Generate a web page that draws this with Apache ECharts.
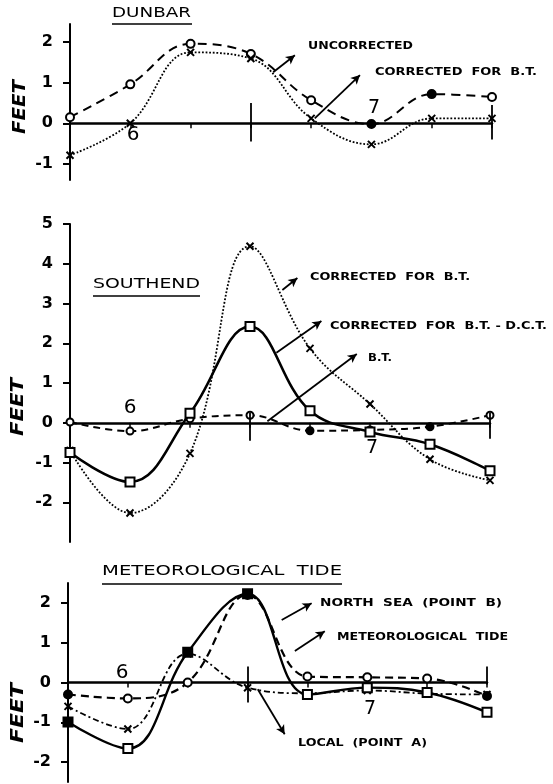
<!DOCTYPE html>
<html>
<head>
<meta charset="utf-8">
<script src="https://cdn.jsdelivr.net/npm/echarts@6/dist/echarts.min.js"></script>
<style>
html,body{margin:0;padding:0;background:#fff;}
#chart{width:553px;height:784px;}
</style>
</head>
<body>
<div id="chart"></div>
<script>
// ---- data (time steps along x; values in feet) ----
const xValues = [0, 1, 2, 3, 4, 5, 6, 7];

const dunbarUncorrected   = [0.15, 0.96, 1.96, 1.71, 0.57, -0.02, 0.72, 0.65];
const dunbarUncorrectedFilled = [5, 6];
const dunbarCorrectedBT   = [-0.79, 0.0, 1.75, 1.60, 0.12, -0.52, 0.12, 0.12];

const southendCorrectedBT    = [-0.70, -2.27, -0.77, 4.44, 1.87, 0.47, -0.92, -1.45];
const southendCorrectedBTDCT = [-0.75, -1.49, 0.24, 2.42, 0.30, -0.23, -0.54, -1.21];
const southendBT             = [0.02, -0.21, 0.10, 0.19, -0.20, -0.18, -0.10, 0.19];
const southendBTFilled       = [4, 6];

const metNorthSea = [-0.30, -0.40, 0.0, 2.20, 0.15, 0.13, 0.10, -0.34];
const metNorthSeaFilled = [0, 7];
const metTide     = [-0.99, -1.66, 0.76, 2.23, -0.30, -0.13, -0.25, -0.75];
const metTideFilled = [0, 2, 3];
const metLocal    = [-0.60, -1.17, 0.72, -0.13, -0.27, -0.20, -0.28, -0.30];

const dunbarTicks   = [-1, 0, 1, 2];
const southendTicks = [-2, -1, 0, 1, 2, 3, 4, 5];
const metTicks      = [-2, -1, 0, 1, 2];

const dayLabels = ['6', '7'];

// ---- helpers ----
const FAM = '"DejaVu Sans", "Liberation Sans", sans-serif';
const ctx = document.createElement('canvas').getContext('2d');
function measure(text, weight, size, style) {
  ctx.font = (style || 'normal') + ' ' + (weight || 'normal') + ' ' + size + 'px ' + FAM;
  return ctx.measureText(text).width;
}
function stretchText(text, x, y, width, size, weight, opts) {
  opts = opts || {};
  const w = measure(text, weight, size, opts.fontStyle);
  return {
    type: 'text', x: x, y: y, rotation: opts.rotation || 0,
    scaleX: width / w, z: 100,
    style: {
      text: text, fill: '#000', fontFamily: FAM, fontSize: size,
      fontWeight: weight || 'normal', fontStyle: opts.fontStyle || 'normal',
      align: opts.align || 'left', verticalAlign: 'middle'
    }
  };
}
function underline(x1, x2, y) {
  return { type: 'line', z: 100, shape: { x1: x1, y1: y, x2: x2, y2: y },
           style: { stroke: '#000', lineWidth: 1.6 } };
}
function dayText(t, x, y, size) {
  return { type: 'text', x: x, y: y, z: 100,
           style: { text: t, fill: '#000', fontFamily: FAM, fontSize: size || 20,
                    align: 'center', verticalAlign: 'middle' } };
}
function mkData(vals, filled) {
  filled = filled || [];
  return vals.map((v, i) => {
    const d = { value: [xValues[i], v] };
    if (filled.indexOf(i) >= 0) d.itemStyle = { color: '#000' };
    return d;
  });
}
const X_SYMBOL = 'path://M0,0L10,10M10,0L0,10';

function lineSeries(idx, vals, opts) {
  return {
    type: 'line', xAxisIndex: idx, yAxisIndex: idx,
    data: mkData(vals, opts.filled),
    smooth: opts.smooth == null ? 0.4 : opts.smooth,
    symbol: opts.symbol, symbolSize: opts.symbolSize || 8,
    showAllSymbol: true,
    lineStyle: { color: '#000', width: opts.width || 2, type: opts.type || 'solid' },
    itemStyle: { color: opts.fill || '#fff', borderColor: '#000', borderWidth: opts.bw || 2 },
    emphasis: { disabled: true },
    z: opts.z || 2,
    markLine: opts.markLine
  };
}
function arrows(list) {
  return {
    silent: true, symbol: ['none', 'arrow'], symbolSize: [7, 9], precision: 4,
    lineStyle: { color: '#000', width: 1.8, type: 'solid' },
    label: { show: false }, emphasis: { disabled: true },
    data: list.map(a => [{ coord: [a[0], a[1]] }, { coord: [a[2], a[3]] }])
  };
}
function ticks(list) {
  return {
    silent: true, symbol: ['none', 'none'], precision: 4,
    lineStyle: { color: '#000', width: 1.8, type: 'solid' },
    label: { show: false }, emphasis: { disabled: true },
    data: list.map(a => [{ coord: [a[0], a[1]] }, { coord: [a[0], a[2]] }])
  };
}

function xAxis(idx) {
  return {
    type: 'value', gridIndex: idx, min: 0, max: 7, interval: 1,
    axisLine: { show: true, onZero: true, lineStyle: { color: '#000', width: 2.5 } },
    axisTick: { show: true, length: 5, inside: false, lineStyle: { color: '#000', width: 1.5 } },
    axisLabel: { show: false }, splitLine: { show: false }
  };
}
function yAxis(idx, min, max, tickVals) {
  return {
    type: 'value', gridIndex: idx, min: min, max: max,
    axisLine: { show: true, onZero: false, lineStyle: { color: '#000', width: 2 } },
    axisTick: { show: true, length: 7, customValues: tickVals, lineStyle: { color: '#000', width: 2 } },
    axisLabel: { show: true, customValues: tickVals, color: '#000', fontFamily: FAM,
                 fontWeight: 'bold', fontSize: 16, margin: 17 },
    splitLine: { show: false }
  };
}

const chart = echarts.init(document.getElementById('chart'), null, { renderer: 'canvas' });

const option = {
  animation: false,
  backgroundColor: '#fff',
  grid: [
    { left: 70, top: 24, width: 422, height: 156 },
    { left: 70, top: 224, width: 420, height: 318 },
    { left: 68, top: 583, width: 419, height: 199 }
  ],
  xAxis: [xAxis(0), xAxis(1), xAxis(2)],
  yAxis: [
    yAxis(0, -1.4, 2.45, dunbarTicks),
    yAxis(1, -3, 5, southendTicks),
    yAxis(2, -2.5, 2.5, metTicks)
  ],
  series: [
    // Dunbar
    lineSeries(0, dunbarUncorrected, { type: [9, 6], symbol: 'circle', symbolSize: 8,
      filled: dunbarUncorrectedFilled,
      markLine: arrows([[3.37, 1.26, 3.73, 1.68], [4.06, 0.12, 4.81, 1.19]]) }),
    lineSeries(0, dunbarCorrectedBT, { type: 'dotted', width: 1.8, symbol: X_SYMBOL, symbolSize: 7,
      markLine: ticks([[3, 0.5, -0.45], [7, 0.45, -0.4]]) }),
    // Southend
    lineSeries(1, southendCorrectedBT, { type: 'dotted', width: 1.8, symbol: X_SYMBOL, symbolSize: 7,
      markLine: arrows([[3.54, 3.34, 3.79, 3.64], [3.44, 1.76, 4.19, 2.56], [3.29, 0.04, 4.78, 1.73]]) }),
    lineSeries(1, southendCorrectedBTDCT, { width: 2.6, symbol: 'rect', symbolSize: 9, z: 3,
      markLine: ticks([[3, 0.25, -0.45], [7, 0.25, -0.4]]) }),
    lineSeries(1, southendBT, { type: [7, 5], symbol: 'circle', symbolSize: 7, filled: southendBTFilled }),
    // Meteorological tide
    lineSeries(2, metNorthSea, { type: [8, 5], width: 2.2, symbol: 'circle', symbolSize: 8, filled: metNorthSeaFilled,
      markLine: arrows([[3.57, 1.57, 4.07, 1.99], [3.79, 0.79, 4.29, 1.29], [3.17, -0.17, 3.62, -1.30]]) }),
    lineSeries(2, metTide, { width: 2.4, symbol: 'rect', symbolSize: 9, filled: metTideFilled, z: 3,
      markLine: ticks([[3, 0.4, -0.5], [7, 0.4, -0.05]]) }),
    lineSeries(2, metLocal, { type: [6, 3, 2, 3], width: 1.8, symbol: X_SYMBOL, symbolSize: 7 })
  ],
  graphic: [
    // titles
    stretchText('DUNBAR', 112, 13, 79, 14, 'normal'),
    underline(112, 192, 24),
    stretchText('SOUTHEND', 93, 284, 107, 14, 'normal'),
    underline(93, 200, 296),
    stretchText('METEOROLOGICAL  TIDE', 102, 571, 240, 14, 'normal'),
    underline(102, 342, 584),
    // axis names
    stretchText('FEET', 20, 107, 54, 18, 'bold', { rotation: Math.PI / 2, align: 'center', fontStyle: 'italic' }),
    stretchText('FEET', 18, 407, 58, 18, 'bold', { rotation: Math.PI / 2, align: 'center', fontStyle: 'italic' }),
    stretchText('FEET', 18, 713, 60, 18, 'bold', { rotation: Math.PI / 2, align: 'center', fontStyle: 'italic' }),
    // annotations
    stretchText('UNCORRECTED', 308, 46, 105, 10, 'bold'),
    stretchText('CORRECTED  FOR  B.T.', 375, 72, 162, 10, 'bold'),
    stretchText('CORRECTED  FOR  B.T.', 310, 277, 160, 10, 'bold'),
    stretchText('CORRECTED  FOR  B.T. - D.C.T.', 330, 326, 217, 10, 'bold'),
    stretchText('B.T.', 368, 358, 24, 10, 'bold'),
    stretchText('NORTH  SEA  (POINT  B)', 320, 603, 182, 10, 'bold'),
    stretchText('METEOROLOGICAL  TIDE', 337, 637, 171, 10, 'bold'),
    stretchText('LOCAL  (POINT  A)', 298, 743, 129, 10, 'bold'),
    // day labels
    dayText(dayLabels[0], 133, 135), dayText(dayLabels[1], 374, 108, 19),
    dayText(dayLabels[0], 130, 408), dayText(dayLabels[1], 372, 448, 19),
    dayText(dayLabels[0], 122, 673), dayText(dayLabels[1], 370, 709, 19)
  ]
};
chart.setOption(option);
</script>
</body>
</html>
